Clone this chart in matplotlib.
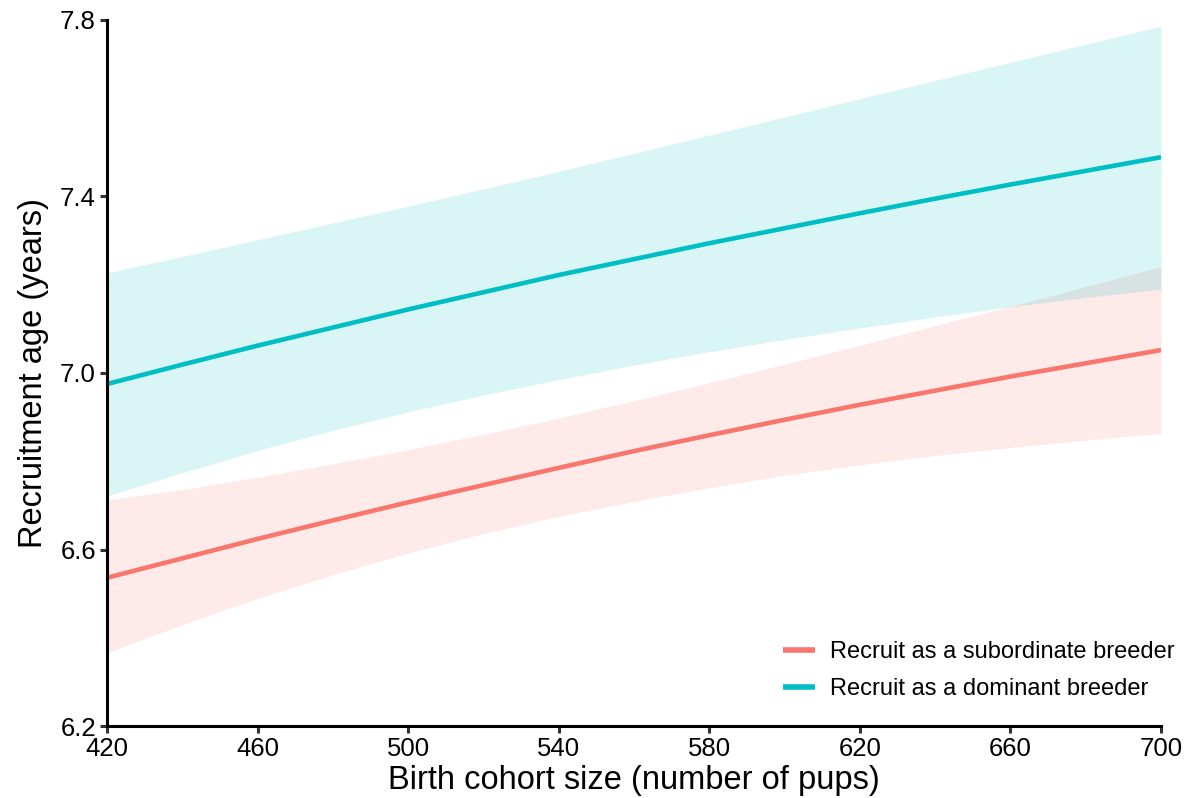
import matplotlib.pyplot as plt

plt.rcParams['font.family'] = ['Liberation Sans', 'DejaVu Sans']

# Birth cohort size (number of pups)
cohort_size = [420, 440, 460, 480, 500, 520, 540, 560, 580, 600, 620, 640, 660, 680, 700]

# Predicted recruitment age and confidence band, subordinate breeders
sub_fit = [6.536, 6.580, 6.624, 6.666, 6.707, 6.746, 6.785, 6.823,
           6.859, 6.894, 6.928, 6.960, 6.992, 7.022, 7.052]
sub_lower = [6.366, 6.430, 6.489, 6.543, 6.592, 6.636, 6.675, 6.709,
             6.740, 6.768, 6.792, 6.813, 6.831, 6.848, 6.863]
sub_upper = [6.712, 6.736, 6.764, 6.794, 6.826, 6.861, 6.898, 6.937,
             6.978, 7.020, 7.063, 7.107, 7.151, 7.196, 7.241]

# Predicted recruitment age and confidence band, dominant breeders
dom_fit = [6.975, 7.019, 7.062, 7.103, 7.144, 7.183, 7.222, 7.258,
           7.294, 7.328, 7.362, 7.395, 7.427, 7.458, 7.489]
dom_lower = [6.721, 6.774, 6.824, 6.870, 6.912, 6.950, 6.985, 7.018,
             7.048, 7.076, 7.102, 7.127, 7.150, 7.171, 7.190]
dom_upper = [7.227, 7.264, 7.302, 7.340, 7.378, 7.417, 7.457, 7.498,
             7.539, 7.580, 7.622, 7.663, 7.704, 7.745, 7.786]

x_ticks = [420, 460, 500, 540, 580, 620, 660, 700]
y_ticks = [6.2, 6.6, 7.0, 7.4, 7.8]

red = '#F8766D'
teal = '#00BFC4'

fig = plt.figure(figsize=(11.92, 7.98), dpi=100)
ax = fig.add_axes([0.0898, 0.0902, 0.8842, 0.8848])

# confidence ribbons first, then the fitted lines on top
ax.fill_between(cohort_size, sub_lower, sub_upper, color=red, alpha=0.15, linewidth=0)
ax.fill_between(cohort_size, dom_lower, dom_upper, color=teal, alpha=0.15, linewidth=0)
ax.plot(cohort_size, sub_fit, color=red, lw=3.3, solid_capstyle='butt',
        label='Recruit as a subordinate breeder')
ax.plot(cohort_size, dom_fit, color=teal, lw=3.3, solid_capstyle='butt',
        label='Recruit as a dominant breeder')

ax.set_xlim(420, 700)
ax.set_ylim(6.2, 7.8)
ax.set_xticks(x_ticks)
ax.set_yticks(y_ticks)
ax.set_yticklabels([f'{v:.1f}' for v in y_ticks])

for side in ['top', 'right']:
    ax.spines[side].set_visible(False)
for side in ['left', 'bottom']:
    ax.spines[side].set_linewidth(2.2)
    ax.spines[side].set_color('black')
ax.tick_params(axis='both', length=5, width=2.2, color='#333333',
               labelsize=18.5, labelcolor='black', pad=3)

ax.set_xlabel('Birth cohort size (number of pups)', fontsize=23.5, labelpad=3)
ax.set_ylabel('Recruitment age (years)', fontsize=23.5, labelpad=8)

leg = ax.legend(loc='lower left', bbox_to_anchor=(0.647, 0.108),
                bbox_transform=fig.transFigure, frameon=False, fontsize=17,
                handlelength=1.35, handletextpad=0.65, labelspacing=0.63,
                borderpad=0)
for line in leg.get_lines():
    line.set_linewidth(4)

fig.savefig('out.png', dpi=100)
